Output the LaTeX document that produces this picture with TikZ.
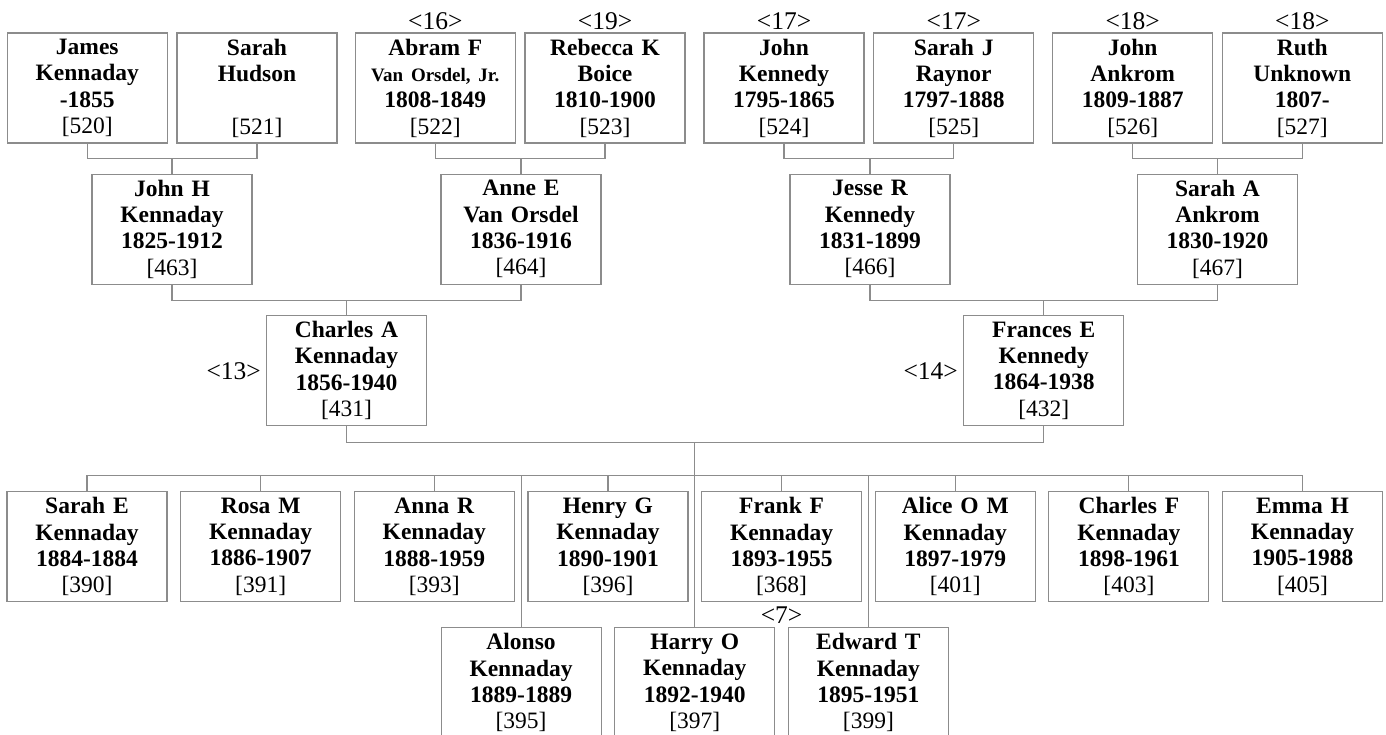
\documentclass[tikz,border=0pt]{standalone}
\usepackage{fontspec}
\setmainfont{Liberation Serif}
\definecolor{boxgray}{RGB}{140,140,140}
\newcommand\pid[1]{{\mdseries[#1]}}
\newcommand\smallname[1]{{\fontsize{19}{26.3}\selectfont #1}}
\begin{document}
\begin{tikzpicture}[x=1pt,y=-1pt,
  person/.style={draw=boxgray, line width=1.1pt, minimum width=160pt, minimum height=110pt,
    text width=158pt, inner sep=0pt, align=center,
    font=\fontsize{23.5}{26.3}\selectfont\bfseries},
  tag/.style={inner sep=0pt, font=\fontsize{25.5}{27}\selectfont},
  link/.style={draw=boxgray, line width=1.1pt}]
\useasboundingbox (0,0) rectangle (1386,734);
\clip (0,0) rectangle (1386,734);

% great-grandparents
\node[person] (p520) at (87.3,88) {James\\Kennaday\\-1855\\\pid{520}};
\node[person] (p521) at (257,88) {Sarah\\Hudson\\\mbox{}\\\pid{521}};
\node[person] (p522) at (435.3,88) {Abram F\\\smallname{Van Orsdel, Jr.}\\1808-1849\\\pid{522}};
\node[person] (p523) at (605,88) {Rebecca K\\Boice\\1810-1900\\\pid{523}};
\node[person] (p524) at (784,88) {John\\Kennedy\\1795-1865\\\pid{524}};
\node[person] (p525) at (953.8,88) {Sarah J\\Raynor\\1797-1888\\\pid{525}};
\node[person] (p526) at (1132.7,88) {John\\Ankrom\\1809-1887\\\pid{526}};
\node[person] (p527) at (1302.3,88) {Ruth\\Unknown\\1807-\\\pid{527}};

\node[tag] (t522) at (435.3,21.5) {<16>};
\node[tag] (t523) at (605,21.5) {<19>};
\node[tag] (t524) at (784,21.5) {<17>};
\node[tag] (t525) at (953.8,21.5) {<17>};
\node[tag] (t526) at (1132.7,21.5) {<18>};
\node[tag] (t527) at (1302.3,21.5) {<18>};

% grandparents
\node[person] (p463) at (172,229.2) {John H\\Kennaday\\1825-1912\\\pid{463}};
\node[person] (p464) at (521,229.2) {Anne E\\Van Orsdel\\1836-1916\\\pid{464}};
\node[person] (p466) at (870,229.2) {Jesse R\\Kennedy\\1831-1899\\\pid{466}};
\node[person] (p467) at (1217.5,229.2) {Sarah A\\Ankrom\\1830-1920\\\pid{467}};

% parents
\node[person] (p431) at (346.5,370.5) {Charles A\\Kennaday\\1856-1940\\\pid{431}};
\node[person] (p432) at (1043.7,370.5) {Frances E\\Kennedy\\1864-1938\\\pid{432}};
\node[tag, anchor=east] (t431) at (261,371.5) {<13>};
\node[tag, anchor=east] (t432) at (958,371.5) {<14>};

% children
\node[person] (p390) at (87,546.7) {Sarah E\\Kennaday\\1884-1884\\\pid{390}};
\node[person] (p391) at (260.65,546.7) {Rosa M\\Kennaday\\1886-1907\\\pid{391}};
\node[person] (p393) at (434.3,546.7) {Anna R\\Kennaday\\1888-1959\\\pid{393}};
\node[person] (p396) at (607.95,546.7) {Henry G\\Kennaday\\1890-1901\\\pid{396}};
\node[person] (p368) at (781.6,546.7) {Frank F\\Kennaday\\1893-1955\\\pid{368}};
\node[person] (p401) at (955.25,546.7) {Alice O M\\Kennaday\\1897-1979\\\pid{401}};
\node[person] (p403) at (1128.9,546.7) {Charles F\\Kennaday\\1898-1961\\\pid{403}};
\node[person] (p405) at (1302.55,546.7) {Emma H\\Kennaday\\1905-1988\\\pid{405}};
\node[tag] (t368) at (781.6,615) {<7>};

\node[person] (p395) at (521.1,682.7) {Alonso\\Kennaday\\1889-1889\\\pid{395}};
\node[person] (p397) at (694.8,682.7) {Harry O\\Kennaday\\1892-1940\\\pid{397}};
\node[person] (p399) at (868.4,682.7) {Edward T\\Kennaday\\1895-1951\\\pid{399}};

% connectors
\draw[link] (p520.south) -- ++(0,15) coordinate (b1) -| (p521.south);
\draw[link] (p463.north) -- (p463.north |- b1);
\draw[link] (p522.south) -- ++(0,15) coordinate (b2) -| (p523.south);
\draw[link] (p464.north) -- (p464.north |- b2);
\draw[link] (p524.south) -- ++(0,15) coordinate (b3) -| (p525.south);
\draw[link] (p466.north) -- (p466.north |- b3);
\draw[link] (p526.south) -- ++(0,15) coordinate (b4) -| (p527.south);
\draw[link] (p467.north) -- (p467.north |- b4);

\draw[link] (p463.south) -- ++(0,16) coordinate (b5) -| (p464.south);
\draw[link] (p431.north) -- (p431.north |- b5);
\draw[link] (p466.south) -- ++(0,16) coordinate (b6) -| (p467.south);
\draw[link] (p432.north) -- (p432.north |- b6);

\draw[link] (p431.south) -- ++(0,16.4) coordinate (b7) -| (p397.north);
\draw[link] (p432.south) -- (p432.south |- b7) -- (b7 -| p397.north);

\draw[link] (p390.north) -- ++(0,-15.7) coordinate (bus) -| (p405.north);
\foreach \n in {391,393,396,368,401,403,395,399}
  \draw[link] (p\n.north) -- (p\n.north |- bus);
\end{tikzpicture}
\end{document}
